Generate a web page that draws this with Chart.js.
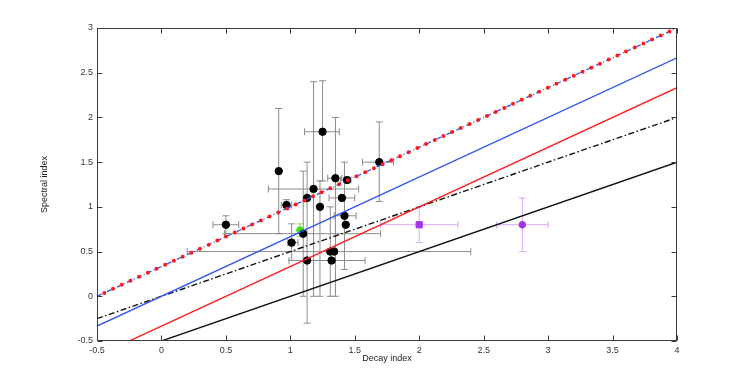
<!DOCTYPE html>
<html>
<head>
<meta charset="utf-8">
<script src="https://cdn.jsdelivr.net/npm/chart.js@4"></script>
<style>
    html, body { margin: 0; padding: 0; background: #fff; }
    #wrap { width: 747px; height: 384px; }
</style>
</head>
<body>
<div id="wrap"><canvas id="c" width="747" height="384"></canvas></div>
<script>
// ── data ──

// black measurements
const ptX   = [0.50, 0.91, 0.97, 1.01, 1.10, 1.13, 1.13, 1.18, 1.25, 1.23, 1.35, 1.44, 1.40, 1.42, 1.43, 1.31, 1.34, 1.32, 1.69];
const ptY   = [0.80, 1.40, 1.02, 0.60, 0.70, 1.10, 0.40, 1.20, 1.84, 1.00, 1.32, 1.30, 1.10, 0.90, 0.80, 0.50, 0.50, 0.40, 1.50];
const ptXLo = [0.40, null, 0.93, 0.98, 0.49, null, null, 0.83, 1.11, null, 1.29, 1.39, 1.30, 1.34, null, 0.20, null, 0.99, 1.56];
const ptXHi = [0.60, null, 1.01, 1.06, 1.70, null, null, 1.53, 1.38, null, 1.40, 1.47, 1.50, 1.51, null, 2.40, null, 1.58, 1.80];
const ptYLo = [0.70, 0.70, 0.97, 0.40, 0.00, null, -0.30, 0.00, 1.29, 0.00, 0.00, null, null, 0.30, null, 0.00, null, null, 1.06];
const ptYHi = [0.90, 2.10, 1.08, 0.81, 1.40, null, 1.50, 2.40, 2.41, 1.29, 2.00, null, null, 1.50, null, 1.00, null, null, 1.95];

// green measurement
const greenX = [1.075], greenY = [0.74];
const greenXLo = [null], greenXHi = [null];
const greenYLo = [0.67], greenYHi = [0.81];

// purple measurements (square, circle)
const purpleX = [2.0, 2.8], purpleY = [0.80, 0.80];
const purpleXLo = [1.70, 2.60], purpleXHi = [2.30, 3.00];
const purpleYLo = [0.60, 0.50], purpleYHi = [1.00, 1.10];

// straight reference lines, end points
const fitX       = [-0.5, 4];
const fitUpper   = [0, 3];        // blue dash-dot with red dots
const fitBlue    = [-0.333, 2.667];
const fitRed     = [-0.667, 2.333];
const fitDashDot = [-0.25, 2.0];
const fitBlack   = [-0.75, 1.5];

const xTicks = [-0.5, 0, 0.5, 1, 1.5, 2, 2.5, 3, 3.5, 4];
const yTicks = [-0.5, 0, 0.5, 1, 1.5, 2, 2.5, 3];

const FONT = "'Liberation Sans', Arial, Helvetica, sans-serif";

// ── helpers ──

function pairs(xs, ys) {
    return xs.map((x, i) => ({ x: x, y: ys[i] }));
}

function bar(data, rot, color) {
    return {
        data: data,
        showLine: true,
        borderColor: color,
        borderWidth: 1,
        pointStyle: "line",
        pointRotation: rot,
        pointRadius: 3.5,
        pointBorderColor: color,
        pointBorderWidth: 1,
        order: 20,
    };
}

function errorBars(xs, ys, xlo, xhi, ylo, yhi, color) {
    const out = [];
    xs.forEach((x, i) => {
        if (xlo[i] !== null) out.push(bar([{ x: xlo[i], y: ys[i] }, { x: xhi[i], y: ys[i] }], 90, color));
        if (ylo[i] !== null) out.push(bar([{ x: x, y: ylo[i] }, { x: x, y: yhi[i] }], 0, color));
    });
    return out;
}

function fitLine(ys, color, width, dash, order) {
    return {
        data: pairs(fitX, ys),
        showLine: true,
        borderColor: color,
        borderWidth: width,
        borderDash: dash,
        pointRadius: 0,
        order: order,
    };
}

// ── frame + inward ticks, MATLAB style ──

const frame = {
    id: "frame",
    afterDraw(chart) {
        const { ctx, chartArea: a, scales } = chart;
        const L = a.left + 0.5, R = a.right - 0.5, T = a.top + 0.5, B = a.bottom - 0.5;
        ctx.save();
        ctx.strokeStyle = "#3c3c3c";
        ctx.lineWidth = 1;
        ctx.strokeRect(L, T, R - L, B - T);
        ctx.beginPath();
        xTicks.forEach((v) => {
            const px = Math.round(scales.x.getPixelForValue(v)) + 0.5;
            ctx.moveTo(px, B); ctx.lineTo(px, B - 5);
            ctx.moveTo(px, T); ctx.lineTo(px, T + 5);
        });
        yTicks.forEach((v) => {
            const py = Math.round(scales.y.getPixelForValue(v)) + 0.5;
            ctx.moveTo(L, py); ctx.lineTo(L + 5, py);
            ctx.moveTo(R, py); ctx.lineTo(R - 5, py);
        });
        ctx.stroke();
        ctx.restore();
    },
};

// ── chart ──

const datasets = [
    // lines on top
    {
        data: pairs(fitX, fitUpper),
        showLine: true,
        borderColor: "#ff1a1a",
        borderWidth: 4,
        borderDash: [0, 9.58],
        borderDashOffset: 1.5,
        borderCapStyle: "round",
        pointRadius: 0,
        order: 0,
    },
    fitLine(fitUpper, "#3355ee", 1.3, [5, 2.5, 1, 2.5], 1),
    fitLine(fitBlue, "#3355ee", 1.4, [], 2),
    fitLine(fitRed, "#ff2020", 1.4, [], 3),
    fitLine(fitDashDot, "#111111", 1.4, [6, 2.5, 1.5, 2.5], 4),
    fitLine(fitBlack, "#111111", 1.4, [], 5),
    // markers
    {
        data: pairs(ptX, ptY),
        pointRadius: 3.7,
        pointBackgroundColor: "#000",
        pointBorderColor: "#000",
        order: 8,
    },
    {
        data: pairs(greenX, greenY),
        pointRadius: 3.4,
        pointBackgroundColor: "#44e01c",
        pointBorderColor: "#44e01c",
        order: 8,
    },
    {
        data: pairs(purpleX, purpleY),
        pointStyle: ["rect", "circle"],
        pointRadius: [4.4, 3.3],
        pointBackgroundColor: "#a333e6",
        pointBorderColor: "#a333e6",
        order: 8,
    },
    // error bars underneath
    ...errorBars(ptX, ptY, ptXLo, ptXHi, ptYLo, ptYHi, "#8c8c8c"),
    ...errorBars(greenX, greenY, greenXLo, greenXHi, greenYLo, greenYHi, "#88e070"),
    ...errorBars(purpleX, purpleY, purpleXLo, purpleXHi, purpleYLo, purpleYHi, "#d9a8f2"),
];

new Chart(document.getElementById("c").getContext("2d"), {
    type: "scatter",
    data: { datasets: datasets },
    options: {
        responsive: false,
        animation: false,
        events: [],
        layout: { padding: { left: 35, right: 70, top: 28, bottom: 16 } },
        plugins: {
            legend: { display: false },
            tooltip: { enabled: false },
        },
        scales: {
            x: {
                type: "linear",
                min: -0.5,
                max: 4,
                afterBuildTicks: (axis) => { axis.ticks = xTicks.map((v) => ({ value: v })); },
                ticks: {
                    padding: 4,
                    color: "#333",
                    font: { family: FONT, size: 9 },
                    maxRotation: 0,
                    callback: (v) => String(v),
                },
                grid: { display: false, drawTicks: false },
                border: { display: false },
                title: {
                    display: true,
                    text: "Decay index",
                    color: "#222",
                    font: { family: FONT, size: 9 },
                    padding: { top: 0, bottom: 4 },
                },
                afterFit: (axis) => { axis.height = 27; },
            },
            y: {
                type: "linear",
                min: -0.5,
                max: 3,
                afterBuildTicks: (axis) => { axis.ticks = yTicks.map((v) => ({ value: v })); },
                ticks: {
                    padding: 4,
                    color: "#333",
                    font: { family: FONT, size: 9 },
                    callback: (v) => String(v),
                },
                grid: { display: false, drawTicks: false },
                border: { display: false },
                title: {
                    display: true,
                    text: "Spectral index",
                    color: "#222",
                    font: { family: FONT, size: 9 },
                    padding: { top: 4, bottom: 0 },
                },
                afterFit: (axis) => { axis.width = 62; },
            },
        },
    },
    plugins: [frame],
});
</script>
</body>
</html>
